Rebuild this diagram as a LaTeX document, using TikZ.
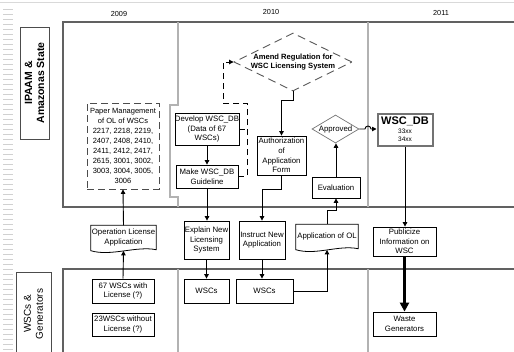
\documentclass[tikz,border=0pt]{standalone}
\usepackage{fontspec}
\setmainfont{Liberation Sans}
\usetikzlibrary{arrows.meta,shapes.geometric}

\tikzset{
  txt/.style={font=\fontsize{7.8}{9.6}\selectfont},
  box/.style={txt, draw=black, line width=0.8pt, rectangle, inner sep=0pt, align=center},
  dashbox/.style={box, draw=black!70, line width=0.9pt, dash pattern=on 7pt off 4pt},
  docnode/.style={txt, inner sep=0pt, align=center},
  docline/.style={draw=black, line width=0.8pt},
  flow/.style={line width=0.9pt, -{Triangle[length=4.5pt,width=4.5pt]}},
  dashflow/.style={line width=0.9pt, dash pattern=on 6pt off 4pt},
  frame/.style={draw=black!62, line width=1.3pt},
  divider/.style={draw=black!30, line width=1.1pt},
  lanebox/.style={draw=black!70, line width=0.9pt, rotate=90, inner sep=0pt, align=center},
  yearlab/.style={font=\fontsize{7.3}{8}\selectfont, inner sep=0pt},
}

\begin{document}
\begin{tikzpicture}[x=1pt,y=-1pt]
\useasboundingbox (0,0) rectangle (514,351);

% page ruler and top rule
\foreach \k in {0,...,68} \draw[black!18, line width=0.8pt] (3,9+5*\k) -- (13,9+5*\k);
\draw[black!15, line width=1pt] (0,2) -- (514,2);

% years
\node[yearlab] (y2009) at (119,14) {2009};
\node[yearlab] (y2010) at (271,12) {2010};
\node[yearlab] (y2011) at (441,13) {2011};

% swimlane frames
\draw[frame] (514,22) -- (63,22) -- (63,207) -- (514,207);
\draw[frame] (514,269) -- (63,269) -- (63,352);

% column dividers
\draw[divider] (178,22) -- (178,105) -- (170,105) -- (170,197) -- (178,197) -- (178,207);
\draw[divider] (368,22) -- (368,207);
\draw[divider] (178,269) -- (178,352);
\draw[divider] (368,269) -- (368,352);

% lane labels
\node[lanebox, minimum width=112, minimum height=29,
      font=\fontsize{10.5}{12}\bfseries] (ipaam) at (34.5,83) {IPAAM \&\\Amazonas State};
\node[lanebox, minimum width=84, minimum height=35,
      font=\fontsize{10}{12}\selectfont] (wscgen) at (33.5,314) {WSCs \&\\Generators};

% upper lane
\node[dashbox, minimum width=72, minimum height=86, font=\fontsize{7.5}{10}\selectfont] (pm) at (123,146)
  {Paper Management\\of OL of WSCs\\2217, 2218, 2219,\\2407, 2408, 2410,\\2411, 2412, 2417,\\2615, 3001, 3002,\\3003, 3004, 3005,\\3006};
\node[box, minimum width=62, minimum height=32] (dev) at (207,129) {Develop WSC\_DB\\(Data of 67\\WSCs)};
\node[box, minimum width=62, minimum height=23] (make) at (207,176.5) {Make WSC\_DB\\Guideline};
\node[diamond, draw=black!65, line width=0.9pt, dash pattern=on 8pt off 5pt,
      minimum width=118, minimum height=58, inner sep=0pt] (amend) at (293,62) {};
\node[font=\fontsize{7.6}{9.5}\bfseries, align=center, inner sep=0pt] (amendtxt) at (amend.center)
  {Amend Regulation for\\WSC Licensing System};
\node[box, minimum width=49, minimum height=39] (auth) at (281.5,155.5) {Authorization\\of\\Application\\Form};
\node[diamond, draw=black!55, line width=0.7pt, minimum width=47, minimum height=28, inner sep=0pt] (appr) at (335.5,129) {};
\node[txt, inner sep=0pt] (apprtxt) at (appr.center) {Approved};
\node[box, minimum width=48, minimum height=21] (eval) at (336,187.5) {Evaluation};
\node[box, draw=black!55, line width=2pt, minimum width=55, minimum height=32, font=\fontsize{6.5}{8}\selectfont] (db) at (405,129.5)
  {{\fontsize{11}{11}\bfseries WSC\_DB}\\[1pt]33xx\\34xx};

% middle band
\node[docnode, minimum width=65, minimum height=24] (opl) at (123.5,237.5) {Operation License\\Application};
\node[box, minimum width=45, minimum height=38] (expl) at (206.5,240) {Explain New\\Licensing\\System};
\node[box, minimum width=46, minimum height=38] (instr) at (262,240) {Instruct New\\Application};
\node[docnode, minimum width=62, minimum height=24] (appol) at (327,236.5) {Application of OL};
\node[box, minimum width=63, minimum height=29] (publ) at (404.5,241.5) {Publicize\\Information on\\WSC};

% document outlines with wavy bottom edge
\foreach \d in {opl,appol}{
  \draw[docline] (\d.north west) -- (\d.north east) -- (\d.south east)
    .. controls ([xshift=-20pt,yshift=4pt]\d.south east) and ([xshift=20pt,yshift=-7pt]\d.south west)
    .. ([yshift=-1pt]\d.south west) -- cycle;
}
\coordinate (oplin) at ([yshift=-1.2pt]opl.south);
\coordinate (appolin) at ([yshift=-1.2pt]appol.south);

% lower lane
\node[box, minimum width=62, minimum height=24] (wl) at (123,291) {67 WSCs with\\License (?)};
\node[box, minimum width=62, minimum height=23] (wol) at (123,324.5) {23WSCs without\\License (?)};
\node[box, minimum width=45, minimum height=24] (wscsa) at (206.5,291) {WSCs};
\node[box, minimum width=57, minimum height=24] (wscsb) at (264.5,291) {WSCs};
\node[box, minimum width=63, minimum height=24] (waste) at (404.5,324) {Waste\\Generators};

% connectors
\draw[flow] (wl.north) -- (oplin);
\draw[flow] (opl.north) -- (pm.south);
\draw[flow] (dev.south) -- (make.north);
\coordinate (dj) at (247,103);
\coordinate (dk) at (223,103);
\draw[dashflow] (dev.east) -- (dev.east -| dj);
\draw[dashflow] (make.east) -| (dj) -- (dk) |- ([xshift=-4.5pt]amend.west);
\draw[-{Triangle[length=4.5pt,width=4.5pt]}, line width=0.9pt] ([xshift=-5pt]amend.west) -- (amend.west);
\coordinate (ab) at (293,100);
\draw[flow] (amend.south) -- (ab) -| (auth.north);
\draw[flow] (auth.south) -- ++(0,14) -| (instr.north);
\draw[flow] (make.south) -- (make.south |- expl.north);
\draw[flow] (expl.south) -- (expl.south |- wscsa.north);
\draw[flow] (instr.south) -- (instr.south |- wscsb.north);
\draw[flow] (wscsb.east) -| (appolin);
\draw[flow] (appol.north) -- ++(0,-14) -| (eval.south);
\draw[flow] (eval.north) -- (eval.north |- appr.south);
\draw[flow] (appr.east) -- (365,129) arc[start angle=180, end angle=0, radius=3pt] -- (appr.east -| db.west);
\draw[flow] (db.south) -- (db.south |- publ.north);
\draw[line width=2.8pt, -{Triangle[length=9pt,width=9pt]}] (publ.south) -- (waste.north);

\end{tikzpicture}
\end{document}
